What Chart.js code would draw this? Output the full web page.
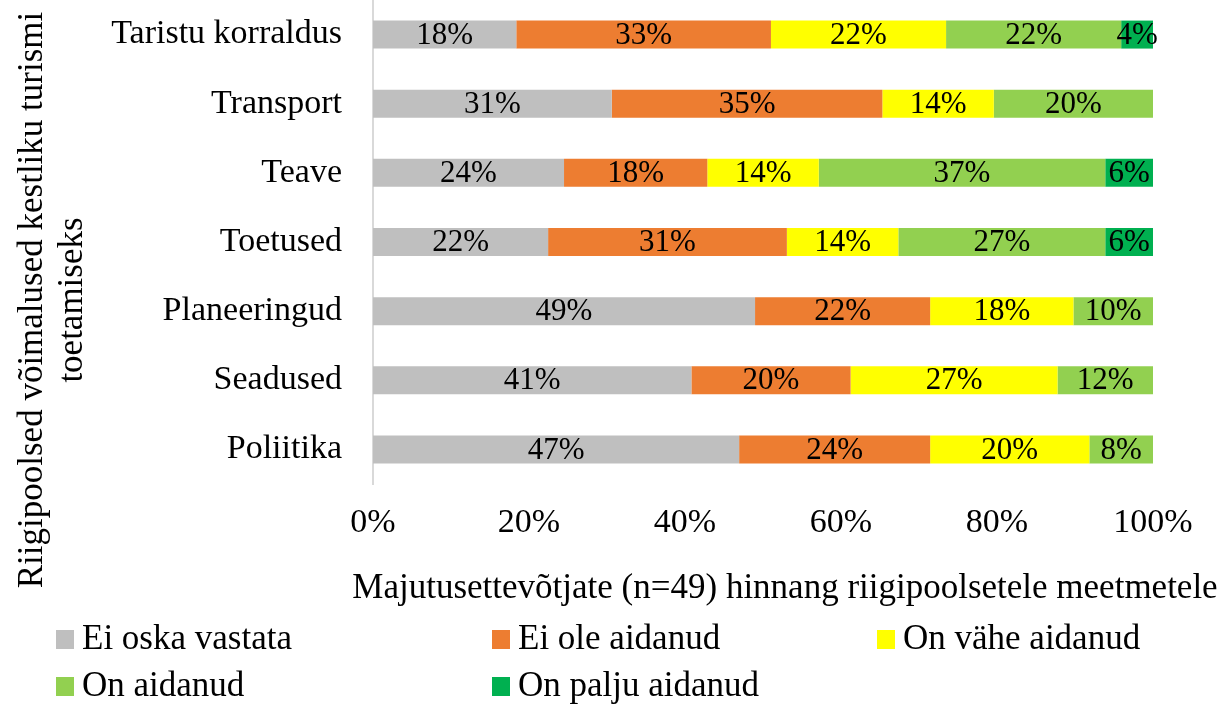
<!DOCTYPE html>
<html>
<head>
<meta charset="utf-8">
<script src="https://cdn.jsdelivr.net/npm/chart.js@4/dist/chart.umd.min.js"></script>
<style>
  html, body { margin: 0; padding: 0; background: #ffffff; }
  #wrap { position: relative; width: 1226px; height: 707px; }
</style>
</head>
<body>
<div id="wrap"><canvas id="c"></canvas></div>
<script>
// ---- data (percent of n = 49 respondents) ----
const categories = ['Taristu korraldus', 'Transport', 'Teave', 'Toetused', 'Planeeringud', 'Seadused', 'Poliitika'];
const seriesNames = ['Ei oska vastata', 'Ei ole aidanud', 'On vähe aidanud', 'On aidanud', 'On palju aidanud'];
const eiOskaVastata  = [18.37, 30.61, 24.49, 22.45, 48.98, 40.82, 46.94];
const eiOleAidanud   = [32.65, 34.69, 18.37, 30.61, 22.45, 20.41, 24.49];
const onVaheAidanud  = [22.45, 14.29, 14.29, 14.29, 18.37, 26.53, 20.41];
const onAidanud      = [22.45, 20.41, 36.73, 26.53, 10.20, 12.24, 8.16];
const onPaljuAidanud = [4.08, 0, 6.12, 6.12, 0, 0, 0];
const xTickValues = [0, 20, 40, 60, 80, 100];
const xAxisTitle = 'Majutusettevõtjate (n=49) hinnang riigipoolsetele meetmetele';
const yAxisTitle = ['Riigipoolsed võimalused kestliku turismi', 'toetamiseks'];

const seriesColors = ['#BFBFBF', '#ED7D31', '#FFFF00', '#92D050', '#00B050'];
const seriesValues = [eiOskaVastata, eiOleAidanud, onVaheAidanud, onAidanud, onPaljuAidanud];

const SERIF = "'Liberation Serif', 'Times New Roman', serif";

const datasets = seriesNames.map((name, i) => ({
  label: name,
  data: seriesValues[i],
  backgroundColor: seriesColors[i],
  borderWidth: 0,
  barPercentage: 0.405,
  categoryPercentage: 1.0
}));

// value labels centred in each segment
const valueLabels = {
  id: 'valueLabels',
  afterDatasetsDraw(chart) {
    const ctx = chart.ctx;
    ctx.save();
    ctx.font = '31px ' + SERIF;
    ctx.fillStyle = '#000000';
    ctx.textAlign = 'center';
    ctx.textBaseline = 'middle';
    chart.data.datasets.forEach((ds, di) => {
      const meta = chart.getDatasetMeta(di);
      meta.data.forEach((el, i) => {
        const v = ds.data[i];
        if (!v) return;
        const p = el.getProps(['x', 'y', 'base'], true);
        ctx.fillText(Math.round(v) + '%', (p.x + p.base) / 2, p.y + 1);
      });
    });
    ctx.restore();
  }
};

// axis titles and legend
const decorations = {
  id: 'decorations',
  afterDraw(chart) {
    const ctx = chart.ctx;
    ctx.save();
    ctx.fillStyle = '#000000';
    ctx.font = '35px ' + SERIF;
    ctx.textBaseline = 'alphabetic';
    // x title
    ctx.textAlign = 'center';
    ctx.fillText(xAxisTitle, 785, 598);
    // y title (rotated, two lines)
    const baselines = [42, 82];
    yAxisTitle.forEach((line, i) => {
      ctx.save();
      ctx.translate(baselines[i], 300);
      ctx.rotate(-Math.PI / 2);
      ctx.textAlign = 'center';
      ctx.fillText(line, 0, 0);
      ctx.restore();
    });
    // legend
    const cols = [56, 492, 877];
    const rows = [649, 696];
    ctx.textAlign = 'left';
    chart.data.datasets.forEach((ds, i) => {
      const x = cols[i % 3];
      const y = rows[Math.floor(i / 3)];
      ctx.fillStyle = ds.backgroundColor;
      ctx.fillRect(x, y - 19, 18, 19);
      ctx.fillStyle = '#000000';
      ctx.fillText(ds.label, x + 26, y);
    });
    ctx.restore();
  }
};

new Chart(document.getElementById('c'), {
  type: 'bar',
  data: { labels: categories, datasets: datasets },
  plugins: [valueLabels, decorations],
  options: {
    indexAxis: 'y',
    responsive: true,
    maintainAspectRatio: false,
    animation: false,
    layout: { padding: { top: 0, right: 73, bottom: 143, left: 0 } },
    plugins: {
      legend: { display: false },
      tooltip: { enabled: false },
      title: { display: false }
    },
    scales: {
      x: {
        stacked: true,
        min: 0,
        max: 100,
        afterBuildTicks(scale) { scale.ticks = xTickValues.map(v => ({ value: v })); },
        afterFit(scale) { scale.height = 80; scale.paddingLeft = 0; scale.paddingRight = 0; },
        grid: { display: false, drawTicks: false },
        border: { display: false },
        ticks: {
          padding: 19,
          color: '#000000',
          font: { family: SERIF, size: 34 },
          callback: v => v + '%'
        }
      },
      y: {
        stacked: true,
        afterFit(scale) { scale.width = 373; scale.paddingTop = 0; scale.paddingBottom = 0; },
        grid: { display: false, drawTicks: false },
        border: { display: true, color: '#D9D9D9', width: 2 },
        ticks: {
          padding: 31,
          color: '#000000',
          font: { family: SERIF, size: 34 }
        }
      }
    }
  }
});
</script>
</body>
</html>
